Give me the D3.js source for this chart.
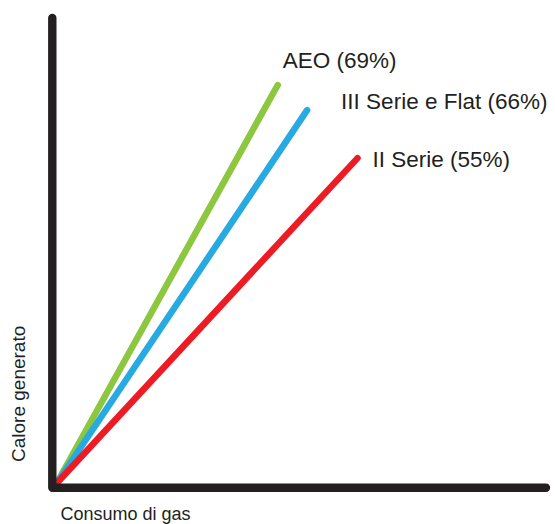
<!DOCTYPE html>
<html>
<head>
<meta charset="utf-8">
<script src="https://cdn.jsdelivr.net/npm/d3@7"></script>
<style>
  html, body { margin: 0; padding: 0; background: #fff; }
  svg { display: block; }
  text { font-family: "Liberation Sans", Arial, Helvetica, sans-serif; fill: #231f20; }
</style>
</head>
<body>
<svg id="chart" width="555" height="524"></svg>
<script>
// Data (schematic: heat generated vs gas consumption)
const seriesNames = ["AEO (69%)", "III Serie e Flat (66%)", "II Serie (55%)"];
const seriesColors = ["#8dc63f", "#27aae1", "#ed1c24"];
const startX = [0, 0, 0];
const startY = [0, 0, 0];
const endX = [45.2, 51.2, 61.5];
const endY = [85.6, 80.2, 69.9];
const xAxisLabel = "Consumo di gas";
const yAxisLabel = "Calore generato";

const svg = d3.select("#chart");
const x = d3.scaleLinear().domain([0, 100]).range([56.5, 546]);
const y = d3.scaleLinear().domain([0, 100]).range([483.5, 18]);

// Series lines
const lineGen = d3.line().x(d => x(d[0])).y(d => y(d[1]));
seriesNames.forEach((name, i) => {
  svg.append("path")
    .attr("d", lineGen([[startX[i], startY[i]], [endX[i], endY[i]]]))
    .attr("fill", "none")
    .attr("stroke", seriesColors[i])
    .attr("stroke-width", 6.5)
    .attr("stroke-linecap", "round");
});

// Axes (thick black L)
const off = 4.2;
svg.append("path")
  .attr("d", d3.line()([
    [x(0) - off, y(100)],
    [x(0) - off, y(0) + off],
    [x(100), y(0) + off]
  ]))
  .attr("fill", "none")
  .attr("stroke", "#231f20")
  .attr("stroke-width", 8.4)
  .attr("stroke-linecap", "round")
  .attr("stroke-linejoin", "round");

// Series labels
const labelDx = [5, 34, 15];
const labelDy = [-17, -1, 9];
seriesNames.forEach((name, i) => {
  svg.append("text")
    .attr("x", x(endX[i]) + labelDx[i])
    .attr("y", y(endY[i]) + labelDy[i])
    .attr("font-size", 22.5)
    .text(name);
});

// Axis titles
svg.append("text")
  .attr("x", 60.5)
  .attr("y", 520)
  .attr("font-size", 18)
  .text(xAxisLabel);

svg.append("text")
  .attr("transform", "translate(25,462) rotate(-90)")
  .attr("font-size", 19)
  .text(yAxisLabel);
</script>
</body>
</html>
